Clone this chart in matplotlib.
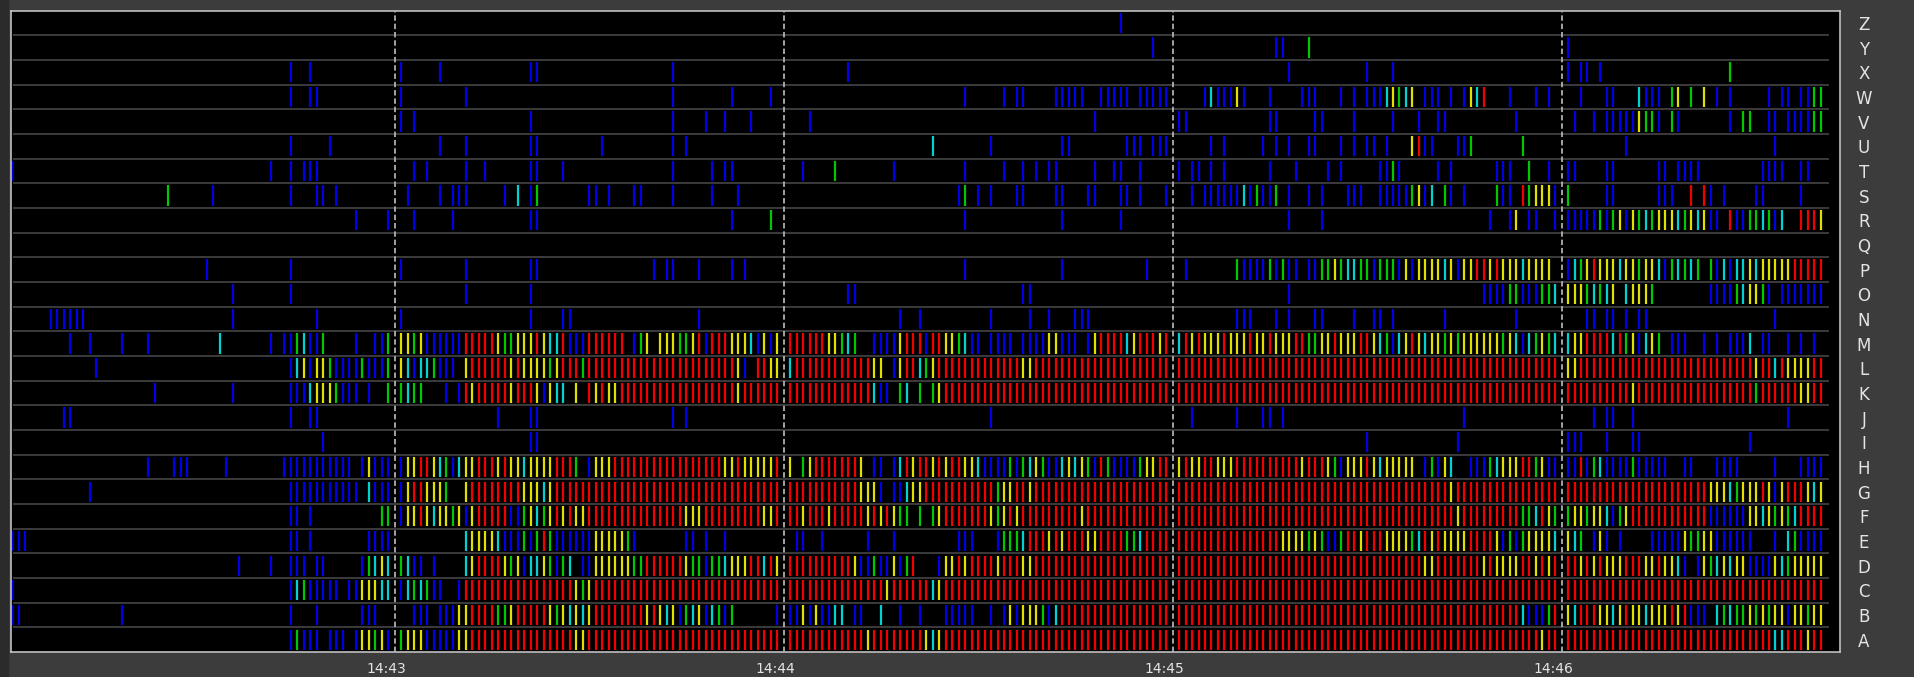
import matplotlib
matplotlib.use("Agg")
import matplotlib.pyplot as plt
from matplotlib.transforms import ScaledTranslation
from matplotlib.patches import Rectangle
import numpy as np

# ---------------- data ----------------
# time unit: seconds after 14:42:00
# token "t:codes" -> codes placed at t, t+1, ... ('.' = no event)
# token "a-b:c"   -> code c at every second from a to b
# codes: b=blue, g=green, c=cyan, y=yellow, r=red
row_labels = list("ABCDEFGHIJKLMNOPQRSTUVWXYZ")   # bottom -> top

row_Z = "172:b"
row_Y = "177:b 196:bb 201:g 241:b"
row_X = "44:b 47:b 61:b 67:b 81:bb 103:b 130:b 198:b 210:b 214:b 241:b 243:bb 246:b 266:g"
row_W = ("44:b 47:bb 61:b 71:b 103:b 112:b 118:b 148:b 154:b.bb 162:bbbbb 169:bbbbb "
         "175:bbbbb 185:bcbbbyb 195:b 200:bbb 206:b.b.bbbcygcy.bbb.b.bycr 232:b 236:b.b "
         "243:b 247:bb 252:cbbb.gy.g.y.b.b 272:b.bb.bbgg")
row_V = ("61:b.b 81:b 103:b 108:b 111:b 115:b 124:b 168:b 181:bb 195:bb 202:bb 208:b "
         "214:b 218:b 221:bb 233:b 242:b 245:b.bbbbbyggb.gb 266:b.gg 272:bb.bbbbgg")
row_U = ("44:b 50:b 67:b 71:b 81:bb 92:b 103:b.b 143:c 152:b 163:bb 173:bbb.bbb 186:b.b "
         "194:b.b.b 201:bb 206:b.b.bb.b 217:yrbb 224:bbg 234:g 250:b 273:b")
row_T = ("1:b 41:b 44:b.bbb 63:b.b 71:b 74:b 81:bb 86:b 103:b 109:b.bb 123:b 128:g 137:b "
         "148:b 154:b 157:b.b.bb 168:b 171:bb 175:b 181:b.bb.b.b 195:b 199:b 204:b.b "
         "212:bbgb 221:b.b 230:bbb 235:g 238:b 241:bb 247:bb 255:bb.bbbb 271:bbbb 277:bb")
row_S = ("25:g 32:b 44:b 48:bb.b 62:b 67:b.bbb 77:b.c.bg 90:bb.b 97:bb 103:b 109:b 113:b "
         "147:bg.b.b 156:bb 162:bb 167:bb 172:bb.b 179:b 183:b.bbbbbbcbgbbg.b 201:b.b "
         "207:bbb 212:bbbbbgybc.gb.b 230:gbb.rgyyyb 241:g 247:bb 255:bbb 260:r.rb.b "
         "270:bb 277:b")
row_R = ("54:b 59:b 63:b 69:b 81:bb 112:b 118:g 148:b 163:b 172:b 198:b 203:b 229:b "
         "232:by.bb 239:b 241:bbbbbgbgybygcgyyycgycybb.rbbggcgbc 277:rrry")
row_Q = ""
row_P = ("31:b 44:b 61:b 71:b 81:bb 100:b.bb 107:b 112:b.b 148:b 163:b 176:b 182:b "
         "190:gbbbbgbgbb 200:.bbggygccg 210:gbgggbybyy 220:yycybyyrry 230:ryyycyyyy "
         "241:bcgyryyycy 251:ygyycbgcgc 261:g.gbcbccyc 271:yyyyyrrrrr")
row_O = ("35:b 44:b 71:b 81:b 130:bb 157:bb 198:b 228:bbbbggbbbggc 241:yyygcgcy.c "
         "251:yyyg 263:bbbbgcyygb.bbbbbbb")
row_N = ("7:bbbbbb 35:b 48:b 61:b 81:b 86:bb 107:b 138:b 141:b 152:b 158:b 161:b 165:bbb "
         "190:bbb 196:b.b 202:bb 208:b 211:bb.b 222:b 233:b 244:bb.bb.b.bb 273:b")
row_M = ("10:b 13:b 18:b 22:b 33:c 41:b.bbgcbbg 54:b 57:bbg "
         "61:yygybbbbbb 71:rrrrryggyy 81:yryccrbbbr 91:rrrrr.bgy. 101:yyyggyrbrr 111:ryyycbyby "
         "121:rrrrrryygc 131:g..bbbbyrr 141:rbrryygcbb 151:.bbbb.bbbb 161:yybbb.byrr 171:rrcyrrryr "
         "181:cryryyyryy 191:yryyryyyrr 201:ggyyryyyrr 211:ycgbcyrycy 221:ygygyyyyyy 231:gycbcgygc "
         "241:cyyrrrrcrg 251:ybcyg.bbb. 261:.b.b.bbbc. 271:bb..b.b.b.")
row_L = ("14:b 44:bcybyygbbbbgbbbg "
         "61:ycbccgbbb. 71:yrrrrrryry 81:yyygyrrrgr 91-110:r 111:rryb.rryy "
         "121:crrrrrrrrr 131:rrryy.byrr 141:cgyrrrrrrr 151:rrrrrryyrr 161-179:r "
         "181-239:r 241:yyrrrrrrrr 251-260:r 261:rrrrrrrrry 271:rrcryyyyrr")
row_K = ("23:b 35:b 44:bbbcyyygbbb.b..g "
         "61:gcgg...b.b 71:ryrrrrryrr 81:rybycc.y.r 91:yryyrrrrrr 101-110:r 111:rryrrrrrr "
         "121-133:r 134:cbb.gc.g.gy 145-179:r 181-239:r "
         "241-250:r 251:y 252-269:r 270:g 271-276:r 277:yy 279:rr")
row_J = "9:bb 44:b 47:bb 76:b 81:bb 103:b.b 152:b 183:b 190:b 194:bb.b 225:b 245:b.bb..b 275:b"
row_I = "49:b 81:bb 210:b 224:b 241:bbb 247:b 251:bb 269:b"
row_H = ("22:b 26:bbb 34:b 43:bbbbbbbbbbb.bybbb "
         "61:byyrrycgbc 71:yyrrryryyc 81:yyyyrrrg.b 91:yyyrrrrrrr 101-110:r 111:yyryyyyyr "
         "121:y.gyrrrrrr 131:ry.bb.bcry 141:rryryrryyc 151:bbbbgbgcyg 161:bbcycygbrg 171:bbbbgyyrr "
         "181:yryyrryyyr 191:rrrrrrrrry 201:rrrygbyyyr 211:ycyyyyy.bg 221:byc..bbbgc 231:yyyrrgybb "
         "241:bbrbgcbbbb 251:gbbbbb..bb 261:...bbbb... 271:..b...bbbb")
row_G = ("13:b 44:bbbbbbbbbbb.cbbb "
         "61:byrryyyg.. 71:yrrrrrrrry 81:yycyrrrrrr 91-119:r "
         "121-131:r 132:yyyb.bbcyy 142-152:r 153:gyyrryrr 161-179:r "
         "181-222:r 223:y 224-239:r 241-260:r 261:rryyycgyyy 271:rybyrrrycy")
row_F = ("44:bb.b 58:gg "
         "61:byyrycyygy 71:byrrrrrbbg 81:ycgyryryyr 91-104:r 105:yyy 108-116:r 117:yy 119:r "
         "121:rryrrryrrr 131:rryryrygg. 141:g.gyrrrrrr 151:rygyryrrrr 161:rrrrryrrrr 171-179:r "
         "181-223:r 224:y 225-233:r 234:ggcryg "
         "241:gyygyycbgy 251-260:r 261:rrbbbbbbyy 271:cygygcrrrr")
row_E = ("1:bbb 44:bb.b 56:bbbb "
         "71:cyyyycbbbg 81:bgrgbbbbbb 91:yyyyygb 105:bb.b 111:b "
         "122:bb..b 133:b...b 147:bbb 153:bgggcrrr 161:yryrrryyrr 171:rrggcrrrr "
         "181-190:r 191:rrrrrryyyy 201:gygbbgrryr 211:rryyyygcry 221:ryyyyrrrry 231:bgbgyyyyc "
         "241:ycg.byb.b. 251:...bbbbbyg 261:gyybbbbbb. 271:..b.cgbbbb")
row_D = ("36:b 41:b 44:bbb.bb 55:bgcyc "
         "61:gcbb.b 71:cyrrrrygyb 81:ccygbgc.bb 91:yyyyyyggrr 101:rrrryggbgg 111:cyyyrrcry "
         "121-130:r 131:ybbgbbybgr 144:byyryrr 151:rryrrryyrr 161-179:r "
         "181-218:r 219:yy 221-227:r 228:y 229:r 230:yyyy 234:rr 236:y 237:r 238:y 239:r "
         "241:rryryryyyr 251:rryyryycb. 261:bygcycyybb 271:bbycgyyyyy")
row_C = ("1:b 44:bcgbbbbb.bbyyycc "
         "61:bcgcgbb..b 71-87:r 88:ygy 91-119:r "
         "121-135:r 136:y 137-142:r 143:cy 145-179:r 181-239:r 241-280:r")
row_B = ("1:bb 18:b 44:b 48:b 55:bbb "
         "63:bbb.bbbyy 72:rrrrggyrr 81:rrrygycycy 91:rrrrrrrryr 101:ycybgcybcg 111:bg 119:b "
         "121:bbybybbcc. 131:bb..c..b.. 141:b...bbbbb. 151:.b.bybyyyg 161:bcrrrrrrrr 171-179:r "
         "181-233:r 234:cbbbg 239:r "
         "241:ycrrryycyr 251:yycyyyryrb 261:bb.cgcggyg 271:ygyybyygyy")
row_A = ("44:bgbbb.bbb.byygyb "
         "61:gyyybbbbby 71:yrrrrrrrrr 81:rrrrrrryyr 91-119:r "
         "121-132:r 133:y 134-141:r 142:ycy 145-179:r "
         "181-236:r 237:y 238-239:r 241-272:r 273:cc 275-277:r 278:y 279-280:r")

rows = [row_A, row_B, row_C, row_D, row_E, row_F, row_G, row_H, row_I, row_J, row_K,
        row_L, row_M, row_N, row_O, row_P, row_Q, row_R, row_S, row_T, row_U, row_V,
        row_W, row_X, row_Y, row_Z]

minute_ticks = [60, 120, 180, 240]
minute_labels = ["14:43", "14:44", "14:45", "14:46"]

palette = {"b": "#0000e6", "g": "#00c800", "c": "#00d2d2", "y": "#e0e000", "r": "#f00000"}


def parse(spec):
    out = []
    for tok in spec.split():
        key, codes = tok.split(":")
        if "-" in key:
            a, b = map(int, key.split("-"))
            out += [(t, codes) for t in range(a, b + 1)]
        else:
            t0 = int(key)
            out += [(t0 + i, c) for i, c in enumerate(codes) if c != "."]
    return out


# ---------------- figure ----------------
W, H = 1914, 677
fig = plt.figure(figsize=(W / 100, H / 100), dpi=100, facecolor="#3c3c3c")
fig.patches.append(Rectangle((0, 0), 8 / W, 1, transform=fig.transFigure,
                             color="#2b2b2b", zorder=-5))
ax = fig.add_axes([11 / W, 1 - 652 / H, (1840 - 11) / W, (652 - 10.5) / H])
ax.set_facecolor("black")
ax.set_xlim(0.83, 282.95)
ax.set_ylim(-0.5, len(row_labels) - 0.5)

# row separators
ax.hlines(np.arange(len(row_labels) - 1) + 0.5, 1.1, 281.3, color="#404040", lw=1.3, zorder=1)

# event ticks
for i, spec in enumerate(rows):
    ev = parse(spec)
    if not ev:
        continue
    ts = [t for t, _ in ev]
    cols = [palette[c] for _, c in ev]
    ax.vlines(ts, i - 0.41, i + 0.41, colors=cols, lw=1.6, zorder=2)

# minute lines
ax.vlines(minute_ticks, -0.5, len(row_labels) - 0.5, colors="#b0b0b0",
          linestyles=(0, (3, 1.6)), lw=1.3, zorder=3)

for s in ax.spines.values():
    s.set_color("#c0c0c0")
    s.set_linewidth(1.2)

ax.set_xticks(minute_ticks, minute_labels)
ax.tick_params(axis="x", length=0, pad=7, labelsize=10, labelcolor="#e4e4e4")
off = ScaledTranslation(-8 / 100, 0, fig.dpi_scale_trans)
for lbl in ax.get_xticklabels():
    lbl.set_transform(lbl.get_transform() + off)

ax.set_yticks(range(len(row_labels)), row_labels)
ax.yaxis.tick_right()
ax.tick_params(axis="y", length=0, pad=17.3, labelsize=12, labelcolor="#e4e4e4")
for lbl in ax.get_yticklabels():
    lbl.set_horizontalalignment("center")

fig.savefig("out.png", dpi=100, facecolor=fig.get_facecolor())
